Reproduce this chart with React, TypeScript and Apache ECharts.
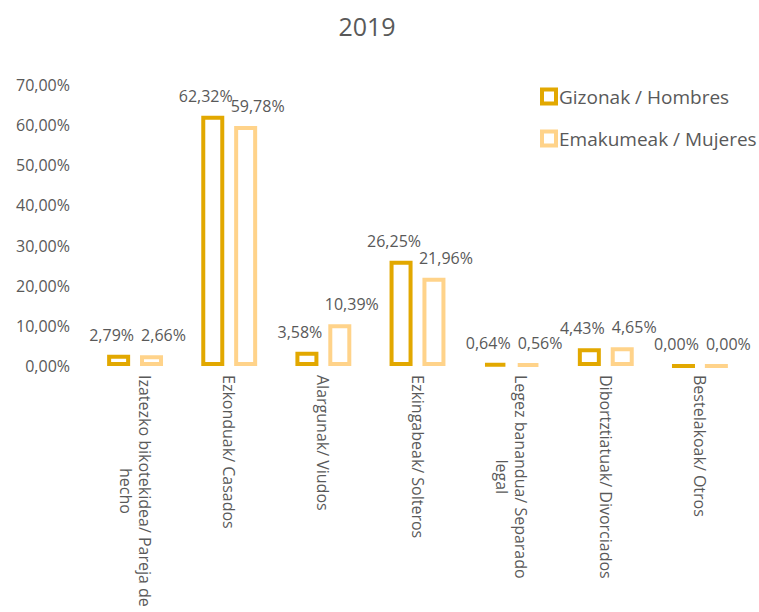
import React, { useEffect, useRef } from "react";
import * as echarts from "echarts";

const categories = [
  "Izatezko bikotekidea/ Pareja de\nhecho",
  "Ezkonduak/ Casados",
  "Alargunak/ Viudos",
  "Ezkingabeak/ Solteros",
  "Legez banandua/ Separado\nlegal",
  "Dibortztiatuak/ Divorciados",
  "Bestelakoak/ Otros",
];
const seriesNames = ["Gizonak / Hombres", "Emakumeak / Mujeres"];
const hombres = [2.79, 62.32, 3.58, 26.25, 0.64, 4.43, 0.0];
const mujeres = [2.66, 59.78, 10.39, 21.96, 0.56, 4.65, 0.0];
const yTicks = { min: 0, max: 70, interval: 10 };
const titleText = "2019";

const FONT = "Open Sans";
const TEXT = "#595959";
const GOLD = "#E2A800";
const LIGHT = "#FFD38A";

const fmt = (v: number) => v.toFixed(2).replace(".", ",") + "%";

export default function App() {
  const ref = useRef<HTMLDivElement>(null);
  useEffect(() => {
    if (!ref.current) return;
    const chart = echarts.init(ref.current, null, { renderer: "svg" });
    const mkSeries = (name: string, data: number[], color: string, offX: number) => ({
      name,
      type: "bar",
      data,
      barWidth: 23,
      barGap: "43%",
      itemStyle: { color: "#ffffff", borderColor: color, borderWidth: 4 },
      label: {
        show: true,
        position: "top",
        distance: 12,
        offset: [offX, 0],
        formatter: (p: any) => fmt(p.value),
        color: TEXT,
        fontSize: 16,
        fontFamily: FONT,
      },
    });
    chart.setOption({
      animation: false,
      backgroundColor: "#ffffff",
      title: {
        text: titleText,
        left: 362,
        top: 8,
        textAlign: "center",
        textStyle: { color: TEXT, fontSize: 25, fontWeight: "normal", fontFamily: FONT },
      },
      legend: {
        orient: "vertical",
        left: 535,
        top: 82,
        itemWidth: 14,
        itemHeight: 14,
        itemGap: 23,
        icon: "rect",
        itemStyle: { borderWidth: 4 },
        textStyle: { color: TEXT, fontSize: 19, fontFamily: FONT, padding: [0, 0, 0, -2] },
        data: seriesNames,
      },
      grid: { left: 88, right: 12, top: 85, bottom: 246, containLabel: false },
      xAxis: {
        type: "category",
        data: categories,
        axisLine: { show: false },
        axisTick: { show: false },
        axisLabel: {
          interval: 0,
          rotate: -90,
          margin: 9,
          color: TEXT,
          fontSize: 16,
          fontFamily: FONT,
          formatter: (v: string) => v.split("\n").map((l) => `{c|${l}}`).join("\n"),
          rich: { c: { align: "center", color: TEXT, fontSize: 16, lineHeight: 19, fontFamily: FONT } },
        },
      },
      yAxis: {
        type: "value",
        min: yTicks.min,
        max: yTicks.max,
        interval: yTicks.interval,
        axisLine: { show: false },
        axisTick: { show: false },
        splitLine: { show: false },
        axisLabel: {
          margin: 18,
          color: TEXT,
          fontSize: 16,
          fontFamily: FONT,
          formatter: (v: number) => fmt(v),
        },
      },
      series: [mkSeries(seriesNames[0], hombres, GOLD, -7), mkSeries(seriesNames[1], mujeres, LIGHT, 12)],
    });
    return () => chart.dispose();
  }, []);
  return (
    <div
      ref={ref}
      style={{ position: "fixed", left: 0, top: 0, width: 759, height: 612, background: "#fff" }}
    />
  );
}
